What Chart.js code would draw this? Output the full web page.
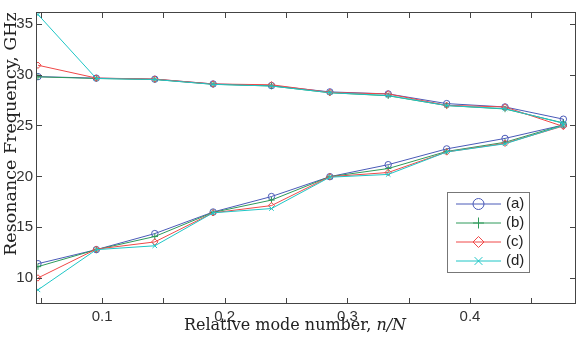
<!DOCTYPE html>
<html>
<head>
<meta charset="utf-8">
<script src="https://cdn.jsdelivr.net/npm/chart.js@4/dist/chart.umd.min.js"></script>
<style>
  html, body { margin: 0; padding: 0; background: #fff; }
  canvas { display: block; }
</style>
</head>
<body>
<canvas id="graficoResonancia" width="581" height="337"></canvas>
<script>
// Posiciones relativas de modo (n/N)
const modos = [0.0476, 0.0952, 0.1429, 0.1905, 0.2381, 0.2857, 0.3333, 0.3810, 0.4286, 0.4762];

// Rama superior (GHz)
const superiorA = [29.8, 29.65, 29.55, 29.08, 28.92, 28.3, 28.1, 27.15, 26.82, 25.62];
const superiorB = [29.78, 29.62, 29.52, 29.05, 28.88, 28.22, 27.92, 26.96, 26.62, 25.25];
const superiorC = [30.92, 29.66, 29.56, 29.08, 29.0, 28.25, 28.1, 26.98, 26.82, 24.9];
const superiorD = [35.9, 29.62, 29.52, 29.04, 28.88, 28.22, 27.94, 26.96, 26.65, 25.22];

// Rama inferior (GHz)
const inferiorA = [11.42, 12.8, 14.38, 16.5, 18.02, 19.97, 21.15, 22.7, 23.73, 25.05];
const inferiorB = [11.13, 12.8, 14.09, 16.46, 17.67, 19.97, 20.77, 22.45, 23.35, 25.05];
const inferiorC = [10.02, 12.85, 13.56, 16.42, 17.13, 19.97, 20.38, 22.4, 23.25, 24.95];
const inferiorD = [8.85, 12.8, 13.18, 16.42, 16.84, 19.92, 20.19, 22.4, 23.2, 25.0];

const etiquetas = ['(a)', '(b)', '(c)', '(d)'];
const xTicks = [0.05, 0.1, 0.15, 0.2, 0.25, 0.3, 0.35, 0.4, 0.45];
const xTickLabels = ['', '0.1', '', '0.2', '', '0.3', '', '0.4', ''];
const yTicks = [10, 15, 20, 25, 30, 35];

const colores = ['#4a5ab8', '#2e9a5a', '#f04848', '#1ec6c6'];
const marcadores = ['circle', 'cross', 'rectRot', 'crossRot'];

// Une rama superior e inferior en una sola polilinea
function serie(sup, inf) {
    let puntos = sup.map((v, i) => ({ x: modos[i], y: v }));
    for (let i = inf.length - 1; i >= 0; i--) {
        puntos.push({ x: modos[i], y: inf[i] });
    }
    return puntos;
}

const series = [
    serie(superiorA, inferiorA),
    serie(superiorB, inferiorB),
    serie(superiorC, inferiorC),
    serie(superiorD, inferiorD)
];

const datasets = series.map((datos, i) => ({
    label: etiquetas[i],
    data: datos,
    borderColor: colores[i],
    backgroundColor: 'rgba(0,0,0,0)',
    pointBorderColor: colores[i],
    pointBackgroundColor: 'rgba(0,0,0,0)',
    pointStyle: marcadores[i],
    pointRadius: 3.2,
    pointBorderWidth: 1,
    borderWidth: 1,
    tension: 0,
    order: 3 - i
}));

// Marco, marcas interiores, titulos de ejes y leyenda
const marcoPlugin = {
    id: 'marco',
    afterDraw(chart) {
        const ctx = chart.ctx;
        const a = chart.chartArea;
        const sx = chart.scales.x;
        const sy = chart.scales.y;
        ctx.save();
        ctx.strokeStyle = '#444';
        ctx.lineWidth = 1;
        ctx.strokeRect(Math.round(a.left) + 0.5, Math.round(a.top) + 0.5,
            Math.round(a.right - a.left) - 1, Math.round(a.bottom - a.top) - 1);

        ctx.beginPath();
        xTicks.forEach(v => {
            let px = Math.round(sx.getPixelForValue(v)) + 0.5;
            ctx.moveTo(px, a.bottom); ctx.lineTo(px, a.bottom - 6);
            ctx.moveTo(px, a.top); ctx.lineTo(px, a.top + 6);
        });
        yTicks.forEach(v => {
            let py = Math.round(sy.getPixelForValue(v)) + 0.5;
            ctx.moveTo(a.left, py); ctx.lineTo(a.left + 6, py);
            ctx.moveTo(a.right, py); ctx.lineTo(a.right - 6, py);
        });
        ctx.stroke();

        // Titulo eje Y
        ctx.fillStyle = '#222';
        ctx.font = '17.5px "DejaVu Serif"';
        ctx.textAlign = 'center';
        ctx.textBaseline = 'middle';
        ctx.save();
        ctx.translate(11, 134);
        ctx.rotate(-Math.PI / 2);
        ctx.fillText('Resonance Frequency, GHz', 0, 0);
        ctx.restore();

        // Titulo eje X con n/N en cursiva
        let parte1 = 'Relative mode number, ';
        let parte2 = 'n/N';
        ctx.font = '16px "DejaVu Serif"';
        let w1 = ctx.measureText(parte1).width;
        ctx.font = 'italic 16px "DejaVu Serif"';
        let w2 = ctx.measureText(parte2).width;
        let x0 = 295 - (w1 + w2) / 2;
        ctx.textAlign = 'left';
        ctx.font = '16px "DejaVu Serif"';
        ctx.fillText(parte1, x0, 326);
        ctx.font = 'italic 16px "DejaVu Serif"';
        ctx.fillText(parte2, x0 + w1, 326);

        // Leyenda
        ctx.fillStyle = '#fff';
        ctx.fillRect(447.5, 192.5, 82, 80);
        ctx.strokeStyle = '#777';
        ctx.strokeRect(447.5, 192.5, 82, 80);
        ctx.font = '15px "Liberation Sans"';
        ctx.textBaseline = 'middle';
        chart.data.datasets.forEach((ds, i) => {
            let y = 204 + i * 19;
            ctx.strokeStyle = ds.borderColor;
            ctx.lineWidth = 1;
            ctx.beginPath();
            ctx.moveTo(456, y); ctx.lineTo(501, y);
            ctx.stroke();
            ctx.fillStyle = 'rgba(0,0,0,0)';
            Chart.helpers.drawPoint(ctx, {
                pointStyle: ds.pointStyle,
                radius: 5.5,
                borderWidth: 1,
                rotation: 0
            }, 478.5, y);
            ctx.fillStyle = '#222';
            ctx.fillText(ds.label, 506, y);
        });
        ctx.restore();
    }
};

new Chart(document.getElementById('graficoResonancia').getContext('2d'), {
    type: 'line',
    data: { datasets: datasets },
    options: {
        responsive: false,
        animation: false,
        layout: { padding: { left: 0, right: 3, top: 4, bottom: 0 } },
        plugins: {
            legend: { display: false },
            tooltip: { enabled: false }
        },
        scales: {
            x: {
                type: 'linear',
                min: 0.046,
                max: 0.4865,
                afterBuildTicks: (scale) => { scale.ticks = xTicks.map(v => ({ value: v })); },
                afterFit: (scale) => { scale.height = 33; },
                grid: { display: false, drawTicks: false },
                border: { display: false },
                ticks: {
                    padding: 4,
                    maxRotation: 0,
                    autoSkip: false,
                    color: '#333',
                    font: { family: 'Liberation Sans', size: 15 },
                    callback: (value, index) => xTickLabels[index]
                }
            },
            y: {
                min: 7.46,
                max: 36.15,
                afterBuildTicks: (scale) => { scale.ticks = yTicks.map(v => ({ value: v })); },
                afterFit: (scale) => { scale.width = 36; },
                grid: { display: false, drawTicks: false },
                border: { display: false },
                ticks: {
                    padding: 3,
                    color: '#333',
                    font: { family: 'Liberation Sans', size: 15 },
                    callback: (value) => String(value)
                }
            }
        }
    },
    plugins: [marcoPlugin]
});
</script>
</body>
</html>
